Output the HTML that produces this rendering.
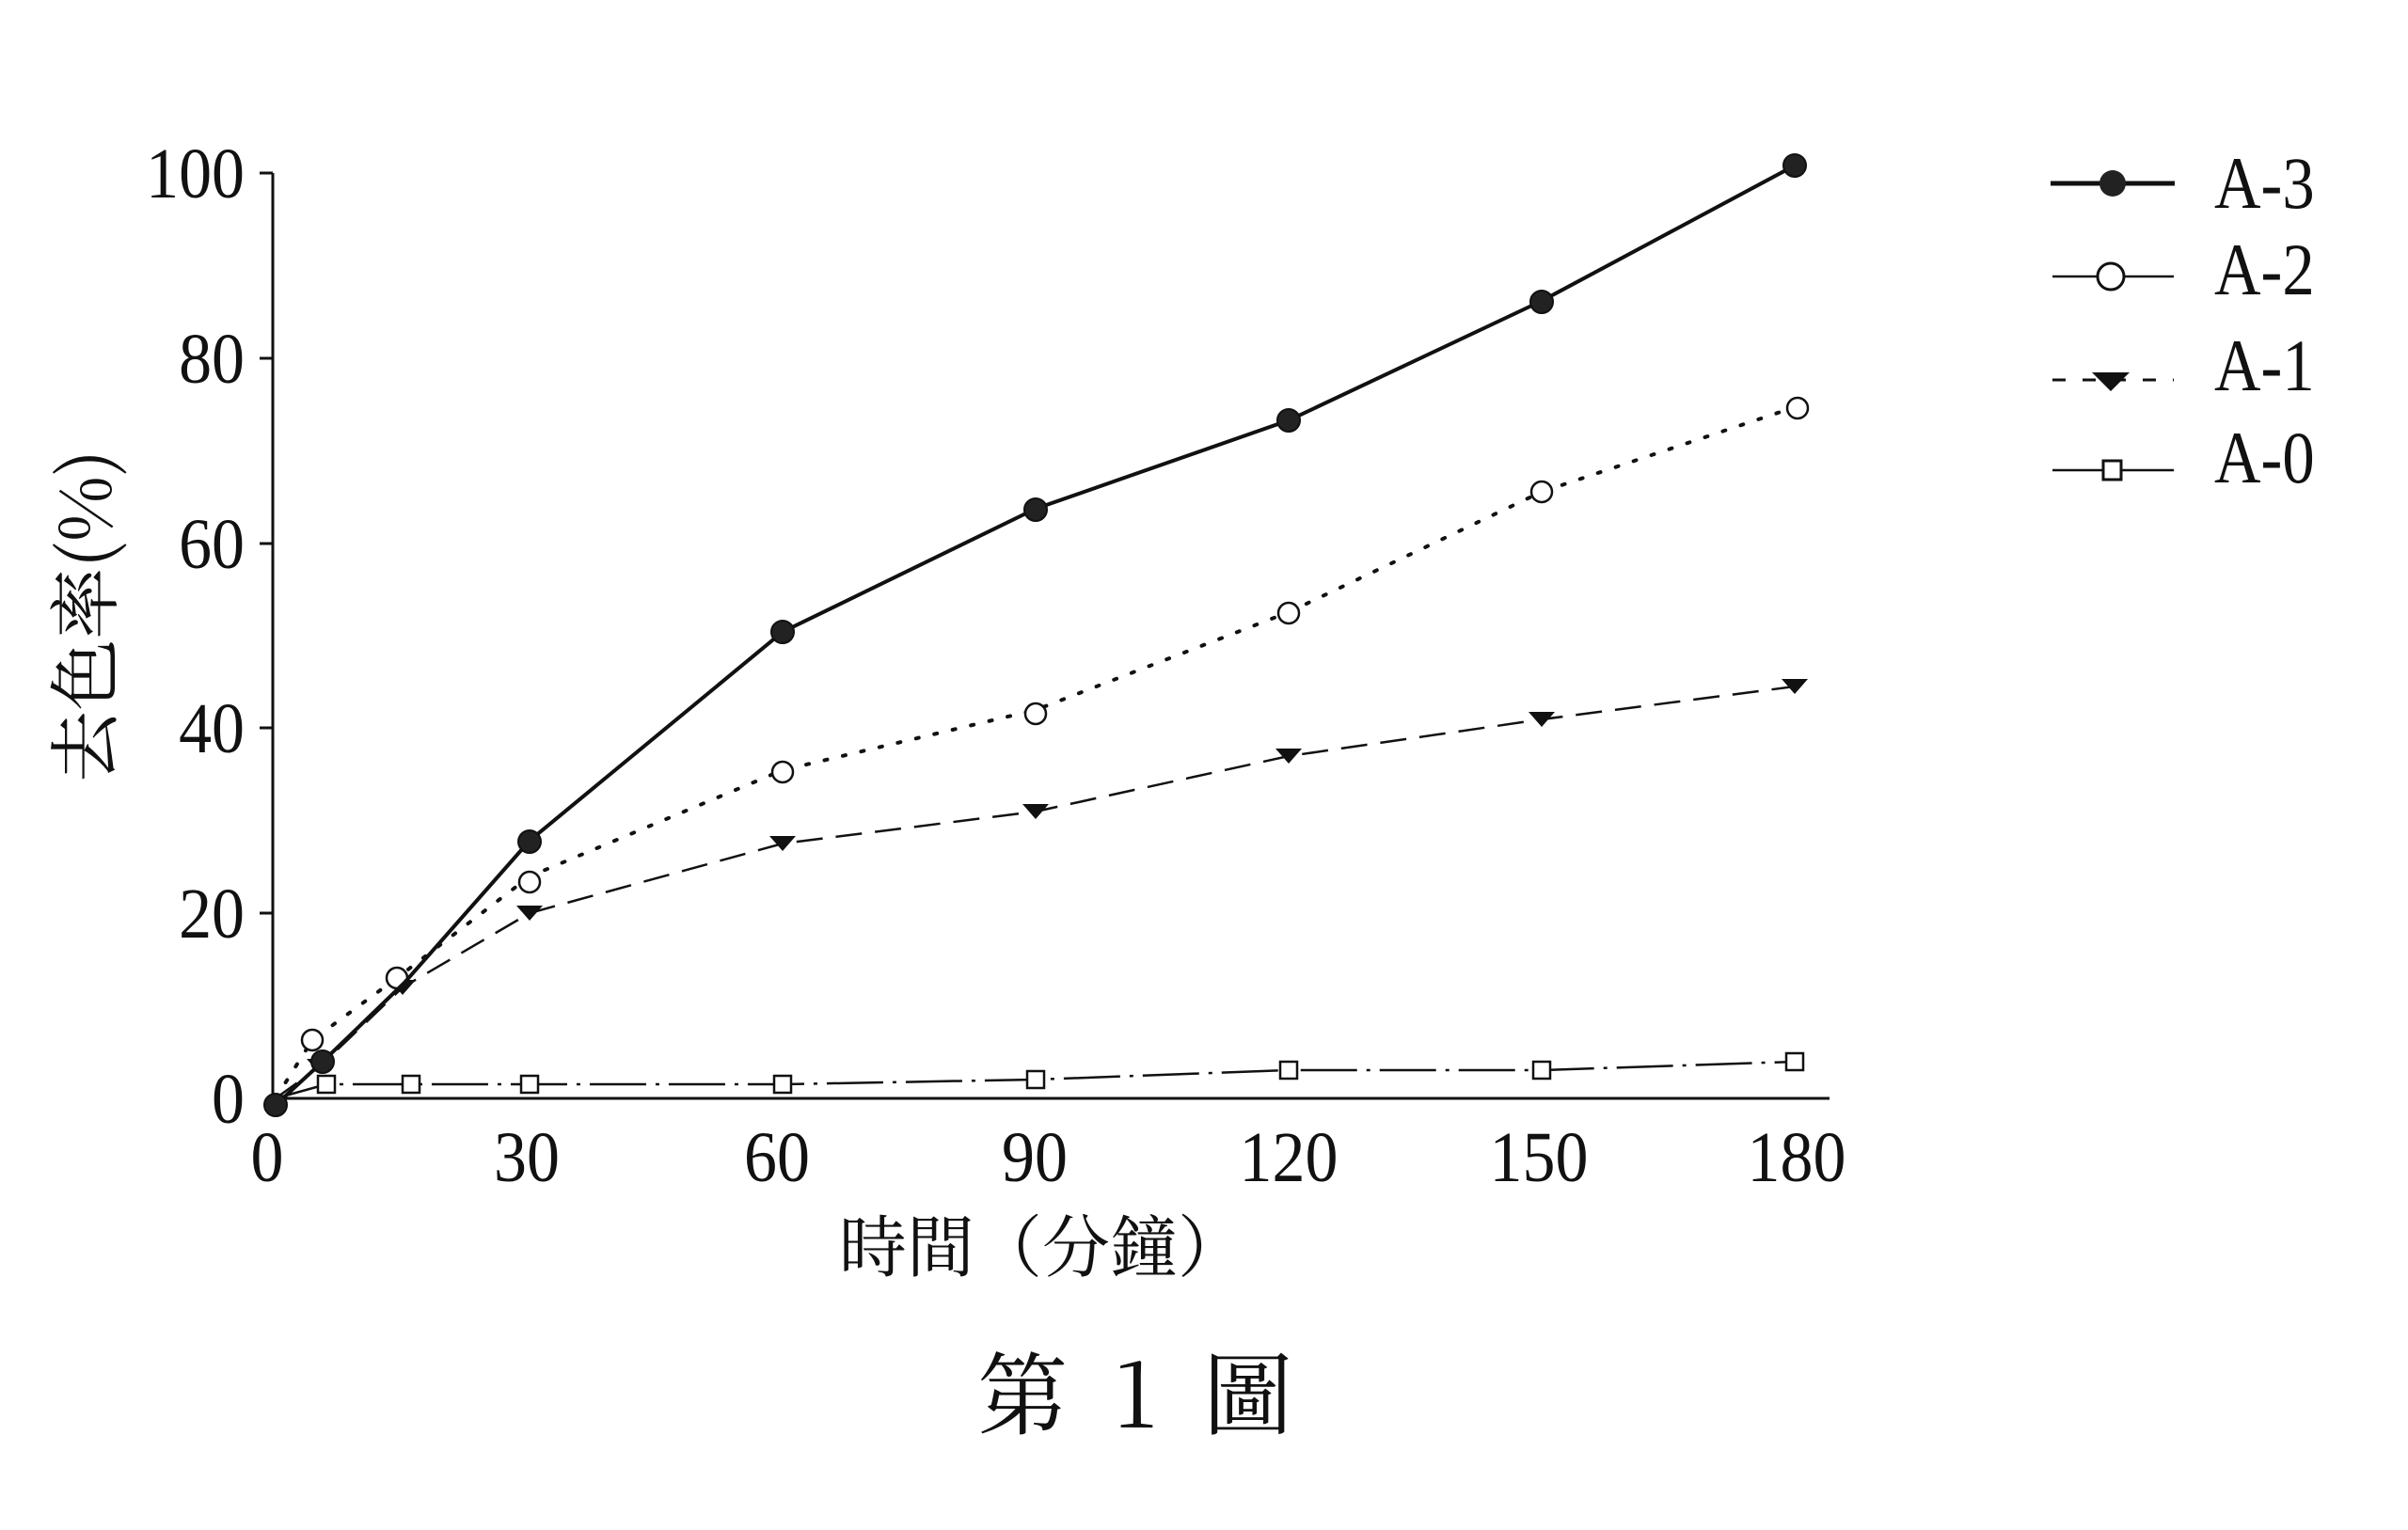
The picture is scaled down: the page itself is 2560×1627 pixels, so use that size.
<!DOCTYPE html>
<html><head><meta charset="utf-8"><style>
html,body{margin:0;padding:0;background:#fff;}
svg{display:block;}
text{font-family:"Liberation Serif","Noto Serif CJK SC",serif;fill:#111;}
.cjk{font-family:"Noto Serif CJK SC","Noto Sans CJK TC",serif;}
</style></head><body>
<svg width="2560" height="1627" viewBox="0 0 2560 1627" xmlns="http://www.w3.org/2000/svg">
<g stroke="#111" stroke-width="3" fill="none">
<line x1="290" y1="184" x2="290" y2="1168"/>
<line x1="290" y1="1168" x2="1945" y2="1168"/>
<line x1="276" y1="184" x2="290" y2="184"/>
<line x1="276" y1="381" x2="290" y2="381"/>
<line x1="276" y1="578" x2="290" y2="578"/>
<line x1="276" y1="774" x2="290" y2="774"/>
<line x1="276" y1="971" x2="290" y2="971"/>
</g>
<g font-size="76" text-anchor="end">
<text x="260" y="210" transform="translate(260 0) scale(0.92 1) translate(-260 0)">100</text>
<text x="260" y="407" transform="translate(260 0) scale(0.92 1) translate(-260 0)">80</text>
<text x="260" y="604" transform="translate(260 0) scale(0.92 1) translate(-260 0)">60</text>
<text x="260" y="800" transform="translate(260 0) scale(0.92 1) translate(-260 0)">40</text>
<text x="260" y="997" transform="translate(260 0) scale(0.92 1) translate(-260 0)">20</text>
<text x="260" y="1194" transform="translate(260 0) scale(0.92 1) translate(-260 0)">0</text>
</g>
<g font-size="76" text-anchor="middle">
<text x="284" y="1256" transform="translate(284 0) scale(0.92 1) translate(-284 0)">0</text>
<text x="560" y="1256" transform="translate(560 0) scale(0.92 1) translate(-560 0)">30</text>
<text x="826" y="1256" transform="translate(826 0) scale(0.92 1) translate(-826 0)">60</text>
<text x="1100" y="1256" transform="translate(1100 0) scale(0.92 1) translate(-1100 0)">90</text>
<text x="1370" y="1256" transform="translate(1370 0) scale(0.92 1) translate(-1370 0)">120</text>
<text x="1636" y="1256" transform="translate(1636 0) scale(0.92 1) translate(-1636 0)">150</text>
<text x="1910" y="1256" transform="translate(1910 0) scale(0.92 1) translate(-1910 0)">180</text>
</g>
<text class="cjk" x="1108" y="1352" font-size="72" text-anchor="middle">時間（分鐘）</text>
<text class="cjk" x="1207" y="1518" font-size="96" text-anchor="middle" xml:space="preserve">第  1  圖</text>
<text class="cjk" x="0" y="0" font-size="76" text-anchor="middle" transform="translate(118 655) rotate(-90)">去色率(%)</text>

<!-- A-0 -->
<polyline fill="none" stroke="#111" stroke-width="2.5" stroke-dasharray="60 10 4 10" points="293,1168 347,1153 437,1153 563,1153 832,1153 1101,1148 1370,1138 1639,1138 1908,1129"/>
<g fill="#fff" stroke="#111" stroke-width="2.5">
<rect x="338" y="1144" width="18" height="18"/><rect x="428" y="1144" width="18" height="18"/><rect x="554" y="1144" width="18" height="18"/><rect x="823" y="1144" width="18" height="18"/><rect x="1092" y="1139" width="18" height="18"/><rect x="1361" y="1129" width="18" height="18"/><rect x="1630" y="1129" width="18" height="18"/><rect x="1899" y="1120" width="18" height="18"/>
</g>
<!-- A-1 -->
<polyline fill="none" stroke="#111" stroke-width="2.5" stroke-dasharray="28 14" points="293,1168 340,1134 428,1050 563,971 832,897 1101,863 1370,804 1639,765 1908,730"/>
<g fill="#111">
<path d="M326,1126 h28 l-14,16z"/><path d="M414,1042 h28 l-14,16z"/><path d="M549,963 h28 l-14,16z"/><path d="M818,889 h28 l-14,16z"/><path d="M1087,855 h28 l-14,16z"/><path d="M1356,796 h28 l-14,16z"/><path d="M1625,757 h28 l-14,16z"/><path d="M1894,722 h28 l-14,16z"/>
</g>
<!-- A-2 -->
<polyline fill="none" stroke="#111" stroke-width="4" stroke-dasharray="3 17" stroke-linecap="round" points="293,1168 332,1106 422,1040 563,932 832,819 1101,755 1370,651 1639,523 1908,433"/>
<g fill="#fff" stroke="#111" stroke-width="2.5">
<circle cx="332" cy="1106" r="11"/><circle cx="422" cy="1040" r="11"/><circle cx="563" cy="938" r="11"/><circle cx="832" cy="821" r="11"/><circle cx="1101" cy="759" r="11"/><circle cx="1370" cy="652" r="11"/><circle cx="1639" cy="523" r="11"/><circle cx="1911" cy="434" r="11"/>
</g>
<!-- A-3 -->
<polyline fill="none" stroke="#111" stroke-width="4" points="293,1175 343,1129 430,1045 563,894 832,672 1101,541 1370,447 1639,320 1908,176"/>
<g fill="#222" stroke="#111" stroke-width="2">
<circle cx="293" cy="1175" r="12"/><circle cx="343" cy="1129" r="12"/><circle cx="563" cy="895" r="12"/><circle cx="832" cy="672" r="12"/><circle cx="1101" cy="542" r="12"/><circle cx="1370" cy="447" r="12"/><circle cx="1639" cy="321" r="12"/><circle cx="1908" cy="176" r="12"/>
</g>
<!-- legend -->
<line x1="2180" y1="195" x2="2312" y2="195" stroke="#111" stroke-width="5"/>
<circle cx="2246" cy="195" r="14" fill="#222"/>
<line x1="2182" y1="294" x2="2311" y2="294" stroke="#111" stroke-width="2.5"/>
<circle cx="2244" cy="294" r="14" fill="#fff" stroke="#111" stroke-width="3"/>
<line x1="2182" y1="404" x2="2311" y2="404" stroke="#111" stroke-width="3" stroke-dasharray="14 18"/>
<path d="M2224,396 h40 l-20,20z" fill="#111"/>
<line x1="2182" y1="500" x2="2311" y2="500" stroke="#111" stroke-width="2.5"/>
<rect x="2236" y="490" width="19" height="20" fill="#fff" stroke="#111" stroke-width="3"/>
<g font-size="78">
<text x="2354" y="221" transform="translate(2354 0) scale(0.88 1) translate(-2354 0)">A-3</text>
<text x="2354" y="313" transform="translate(2354 0) scale(0.88 1) translate(-2354 0)">A-2</text>
<text x="2354" y="415" transform="translate(2354 0) scale(0.88 1) translate(-2354 0)">A-1</text>
<text x="2354" y="513" transform="translate(2354 0) scale(0.88 1) translate(-2354 0)">A-0</text>
</g>
</svg>
</body></html>
